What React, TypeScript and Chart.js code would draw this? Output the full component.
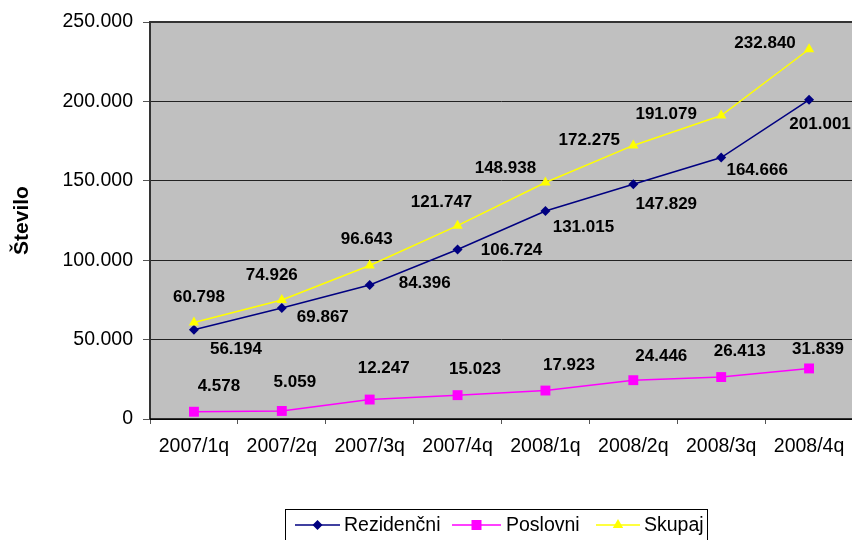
import React, { useEffect, useRef } from "react";
import { Chart, registerables } from "chart.js";

Chart.register(...registerables);

const categories = ["2007/1q", "2007/2q", "2007/3q", "2007/4q", "2008/1q", "2008/2q", "2008/3q", "2008/4q"];
const seriesNames = ["Rezidenčni", "Poslovni", "Skupaj"];
const rezidencni = [56194, 69867, 84396, 106724, 131015, 147829, 164666, 201001];
const poslovni = [4578, 5059, 12247, 15023, 17923, 24446, 26413, 31839];
const skupaj = [60798, 74926, 96643, 121747, 148938, 172275, 191079, 232840];
const yTickValues = [0, 50000, 100000, 150000, 200000, 250000];
const yTitle = "Število";

// label placement offsets (px) relative to each point, as in the reference
const rezLabelOffsets = [[42, 20], [41, 9.5], [55, -2], [54, 1], [38, 16], [33, 20.5], [36, 13], [11, 25]];
const posLabelOffsets = [[25, -25], [13, -29], [14, -31], [17.5, -26], [23.5, -25.6], [28, -23.5], [18.5, -25.4], [9, -19]];
const skuLabelOffsets = [[5, -25], [-10, -25], [-3, -26], [-16, -23], [-40, -14.5], [-44, -5], [-55, -1.6], [-44, -6.4]];

const colors = ["#000080", "#FF00FF", "#FFFF00"];
const FONT = "'Liberation Sans', Arial, sans-serif";

function fmt(v: number): string {
  const s = Math.round(v).toString();
  return s.replace(/\B(?=(\d{3})+(?!\d))/g, ".");
}

function drawMarker(ctx: CanvasRenderingContext2D, kind: string, x: number, y: number, color: string) {
  ctx.save();
  ctx.fillStyle = color;
  ctx.beginPath();
  if (kind === "diamond") {
    const r = 5;
    ctx.moveTo(x, y - r);
    ctx.lineTo(x + r, y);
    ctx.lineTo(x, y + r);
    ctx.lineTo(x - r, y);
  } else if (kind === "square") {
    const h = 5;
    ctx.rect(x - h, y - h, 2 * h, 2 * h);
  } else {
    const r = 6;
    ctx.moveTo(x, y - r);
    ctx.lineTo(x + r * 0.866, y + r * 0.5);
    ctx.lineTo(x - r * 0.866, y + r * 0.5);
  }
  ctx.closePath();
  ctx.fill();
  ctx.restore();
}

export default function App() {
  const canvasRef = useRef<HTMLCanvasElement | null>(null);

  useEffect(() => {
    document.body.style.margin = "0";
    document.body.style.overflow = "hidden";
    const canvas = canvasRef.current;
    if (!canvas) return;

    const offsets = [rezLabelOffsets, posLabelOffsets, skuLabelOffsets];
    const markers = ["diamond", "square", "triangle"];

    const bgPlugin = {
      id: "bgPlugin",
      beforeDraw(chart: any) {
        const { ctx, chartArea: a } = chart;
        ctx.save();
        ctx.fillStyle = "#C0C0C0";
        ctx.fillRect(a.left, a.top, a.right - a.left, a.bottom - a.top);
        ctx.restore();
      },
      beforeDatasetsDraw(chart: any) {
        const { ctx, chartArea: a } = chart;
        ctx.save();
        ctx.strokeStyle = "#333333";
        ctx.lineWidth = 2;
        ctx.beginPath();
        ctx.moveTo(a.left, a.bottom);
        ctx.lineTo(a.left, a.top);
        ctx.lineTo(a.right, a.top);
        ctx.stroke();
        ctx.strokeStyle = "#000000";
        ctx.lineWidth = 1.5;
        ctx.beginPath();
        ctx.moveTo(a.left, a.bottom);
        ctx.lineTo(a.right, a.bottom);
        ctx.stroke();
        ctx.restore();
      },
      afterDatasetsDraw(chart: any) {
        const ctx = chart.ctx;
        ctx.save();
        ctx.fillStyle = "#000";
        ctx.font = `bold 17px ${FONT}`;
        ctx.textAlign = "center";
        ctx.textBaseline = "middle";
        chart.data.datasets.forEach((ds: any, di: number) => {
          const meta = chart.getDatasetMeta(di);
          meta.data.forEach((pt: any, i: number) => {
            const [dx, dy] = offsets[di][i];
            ctx.fillText(fmt(ds.data[i]), pt.x + dx, pt.y + dy);
          });
        });
        ctx.restore();
      },
      afterDraw(chart: any) {
        const ctx = chart.ctx;
        ctx.save();
        // legend box
        ctx.strokeStyle = "#000";
        ctx.lineWidth = 1;
        ctx.strokeRect(285.5, 509.5, 422, 40);
        const cy = 525;
        const items = [
          { x1: 295, x2: 340, tx: 344 },
          { x1: 452, x2: 501, tx: 506 },
          { x1: 596, x2: 640, tx: 644 },
        ];
        ctx.font = `19.5px ${FONT}`;
        ctx.textBaseline = "middle";
        ctx.textAlign = "left";
        items.forEach((it, i) => {
          ctx.strokeStyle = colors[i];
          ctx.lineWidth = 1.5;
          ctx.beginPath();
          ctx.moveTo(it.x1, cy);
          ctx.lineTo(it.x2, cy);
          ctx.stroke();
          drawMarker(ctx, markers[i], (it.x1 + it.x2) / 2, cy, colors[i]);
          ctx.fillStyle = "#000";
          ctx.fillText(seriesNames[i], it.tx, cy + 1);
        });
        ctx.restore();
      },
    };

    const chart = new Chart(canvas, {
      type: "line",
      data: {
        labels: categories,
        datasets: [
          {
            label: seriesNames[0],
            data: rezidencni,
            borderColor: colors[0],
            backgroundColor: colors[0],
            borderWidth: 1.5,
            pointStyle: "rectRot",
            pointRadius: 5,
            pointBorderWidth: 0,
            order: 3,
          },
          {
            label: seriesNames[1],
            data: poslovni,
            borderColor: colors[1],
            backgroundColor: colors[1],
            borderWidth: 1.5,
            pointStyle: "rect",
            pointRadius: 7,
            pointBorderWidth: 0,
            order: 2,
          },
          {
            label: seriesNames[2],
            data: skupaj,
            borderColor: colors[2],
            backgroundColor: colors[2],
            borderWidth: 1.5,
            pointStyle: "triangle",
            pointRadius: 6,
            pointBorderWidth: 0,
            order: 1,
          },
        ],
      },
      options: {
        animation: false,
        responsive: false,
        devicePixelRatio: 1,
        layout: { padding: { top: 22, right: 6, left: 0, bottom: 0 } },
        plugins: {
          legend: { display: false },
          tooltip: { enabled: false },
          title: { display: false },
        },
        elements: { line: { tension: 0 } },
        scales: {
          x: {
            type: "category",
            offset: true,
            grid: {
              offset: true,
              drawOnChartArea: false,
              drawTicks: true,
              tickLength: 5,
              color: "#555",
              lineWidth: 1,
            },
            border: { display: false },
            ticks: {
              color: "#000",
              font: { family: FONT, size: 19.5 },
              padding: 11,
              maxRotation: 0,
              autoSkip: false,
            },
            afterFit(scale: any) {
              scale.height = 121;
            },
          },
          y: {
            min: 0,
            max: 250000,
            afterBuildTicks(scale: any) {
              scale.ticks = yTickValues.map((v) => ({ value: v }));
            },
            grid: {
              color: "#222",
              lineWidth: 1,
              tickLength: 7,
              tickColor: "#555",
            },
            border: { display: false },
            ticks: {
              color: "#000",
              font: { family: FONT, size: 19.5 },
              padding: 10,
              callback: (v: any) => fmt(Number(v)),
            },
            title: {
              display: true,
              text: yTitle,
              color: "#000",
              font: { family: FONT, size: 21, weight: "bold" },
              padding: { top: 10, bottom: 0 },
            },
            afterFit(scale: any) {
              scale.width = 150;
            },
          },
        },
      },
      plugins: [bgPlugin],
    } as any);

    return () => chart.destroy();
  }, []);

  return (
    <div style={{ position: "fixed", left: 0, top: 0, width: 852, height: 540, overflow: "hidden", background: "#fff" }}>
      <canvas ref={canvasRef} width={860} height={540} style={{ width: 860, height: 540, display: "block" }} />
    </div>
  );
}
